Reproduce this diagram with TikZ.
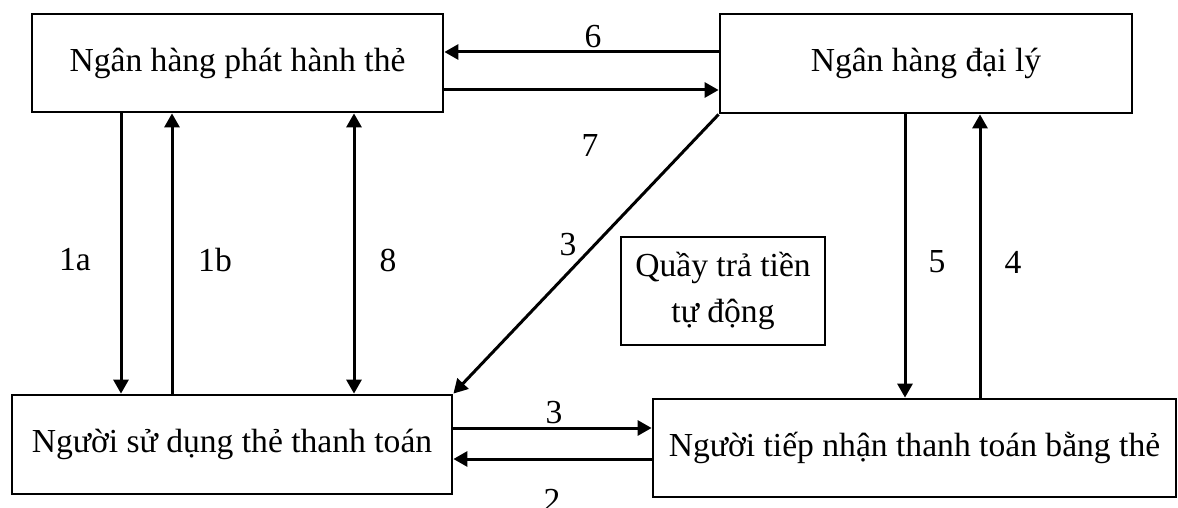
\documentclass[tikz,border=0pt]{standalone}
\usepackage{fontspec}
\setmainfont{Liberation Serif}
\usetikzlibrary{arrows.meta}
\begin{document}
\begin{tikzpicture}[x=1pt,y=-1pt,
  box/.style={draw, line width=2.8pt, rectangle, inner sep=0pt, align=center,
    font=\fontsize{33.6}{42}\selectfont},
  lbl/.style={font=\fontsize{33.6}{40}\selectfont, inner sep=0pt},
  arr/.style={line width=3pt, -{Triangle[length=14pt,width=15pt]}},
  darr/.style={line width=3pt, {Triangle[length=14pt,width=15pt]}-{Triangle[length=14pt,width=15pt]}}]
\useasboundingbox (0,0) rectangle (1178,508);

% parties
\node[box, minimum width=411pt, minimum height=98pt] (issuer) at (237.5,63) {Ngân hàng phát hành thẻ};
\node[box, minimum width=412pt, minimum height=99pt] (agent) at (926,63.5) {Ngân hàng đại lý};
\node[box, minimum width=440pt, minimum height=99pt] (user) at (232,444.5) {Người sử dụng thẻ thanh toán};
\node[box, minimum width=523pt, minimum height=98pt] (merchant) at (914.5,448) {Người tiếp nhận thanh toán bằng thẻ};
\node[box, minimum width=204pt, minimum height=108pt] (atm) at (723,291) {Quầy trả tiền\\[4pt]tự động};

% flows between the banks
\draw[arr] (agent.west |- 0,52) -- (issuer.east |- 0,52);
\draw[arr] (issuer.east |- 0,90) -- (agent.west |- 0,90);
\node[lbl] (l6) at (593,37) {6};
\node[lbl] (l7) at (590,145) {7};

% issuer and card user
\draw[arr] (issuer.south -| 121,0) -- (user.north -| 121,0);
\draw[arr] (user.north -| 172,0) -- (issuer.south -| 172,0);
\draw[darr] (issuer.south -| 354,0) -- (user.north -| 354,0);
\node[lbl] (l1a) at (75,260) {1a};
\node[lbl] (l1b) at (215,260) {1b};
\node[lbl] (l8) at (388,260) {8};

% agent bank to card user
\draw[arr] (agent.south west) -- (user.north east);
\node[lbl] (l3d) at (568,245) {3};

% card user and merchant
\draw[arr] (user.east |- 0,428) -- (merchant.west |- 0,428);
\draw[arr] (merchant.west |- 0,459) -- (user.east |- 0,459);
\node[lbl] (l3h) at (554,413) {3};
\node[lbl] (l2) at (552,500) {2};

% agent bank and merchant
\draw[arr] (agent.south -| 905,0) -- (merchant.north -| 905,0);
\draw[arr] (merchant.north -| 980,0) -- (agent.south -| 980,0);
\node[lbl] (l5) at (937,262) {5};
\node[lbl] (l4) at (1013,262) {4};
\end{tikzpicture}
\end{document}
